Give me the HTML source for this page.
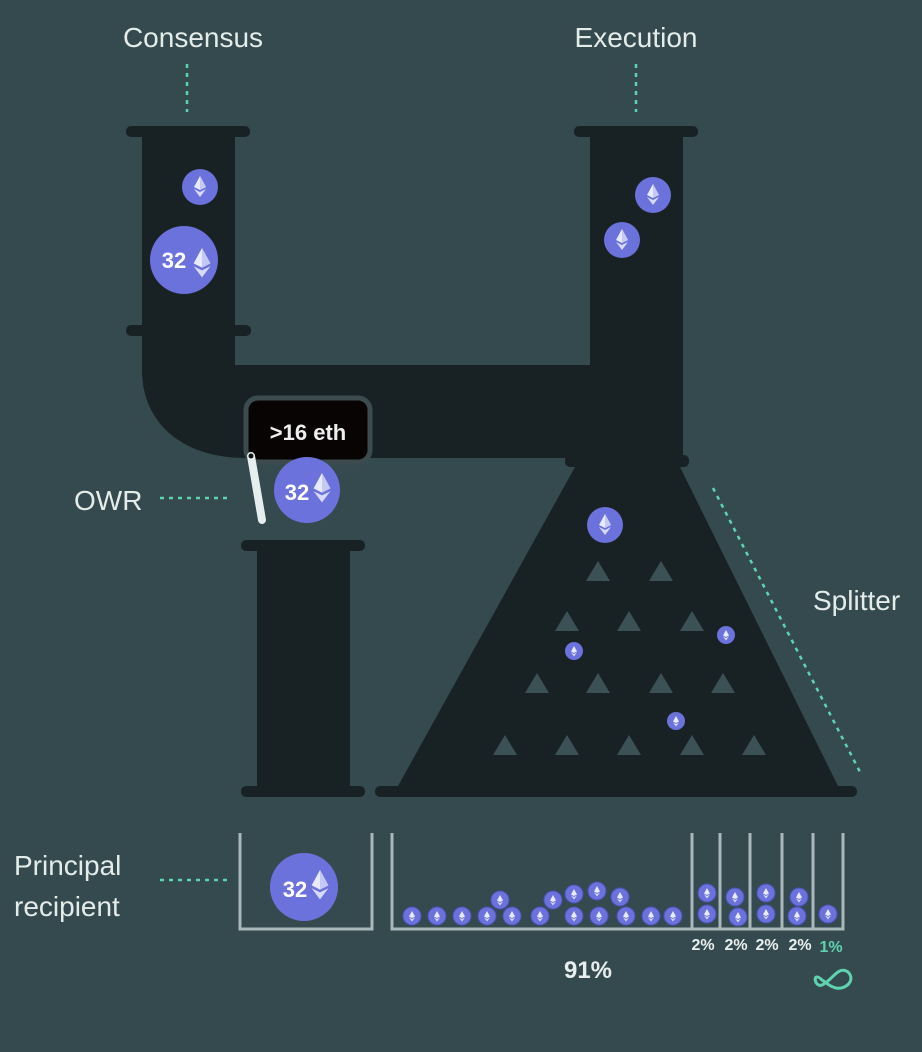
<!DOCTYPE html>
<html><head><meta charset="utf-8"><style>
html,body{margin:0;padding:0;background:#354a4f;}
svg{display:block}
text{font-family:"Liberation Sans",sans-serif}
</style></head><body>
<svg width="922" height="1052" viewBox="0 0 922 1052" xmlns="http://www.w3.org/2000/svg">
<defs>
<g id="eth"><path d="M0,-10 L6,1 L0,4 L-6,1Z" fill="#e8eaff"/><path d="M0,-10 L6,1 L0,4Z" fill="#c4c8f4"/><path d="M-6,3 L0,6 L6,3 L0,11Z" fill="#d7dbfb"/></g>
<g id="ethS"><path d="M0,-5 L3,0.5 L0,2 L-3,0.5Z" fill="#e8eaff"/><path d="M-3,1.5 L0,3 L3,1.5 L0,5.5Z" fill="#d7dbfb"/></g>
<polygon id="tri" points="0,-10 12,10 -12,10" fill="#3b5156"/>
</defs>
<rect width="922" height="1052" fill="#354a4f"/>
<g font-size="28" fill="#e4ece9" >
<text x="193" y="47" text-anchor="middle">Consensus</text>
<text x="636" y="47" text-anchor="middle">Execution</text>
<text x="74" y="510">OWR</text>
<text x="813" y="610">Splitter</text>
<text x="14" y="875">Principal</text>
<text x="14" y="916">recipient</text>
</g>
<g stroke="#5fd3b0" stroke-width="2.5" stroke-dasharray="4,5" fill="none">
<line x1="187" y1="64" x2="187" y2="112"/>
<line x1="636" y1="64" x2="636" y2="112"/>
<line x1="160" y1="498" x2="228" y2="498"/>
<line x1="160" y1="880" x2="228" y2="880"/>
<line x1="713" y1="488" x2="860" y2="772"/>
</g>
<g fill="#182224">
<rect x="126" y="126" width="124" height="11" rx="5"/>
<rect x="574" y="126" width="124" height="11" rx="5"/>
<rect x="142" y="136" width="93" height="190"/>
<rect x="126" y="325" width="125" height="11" rx="5"/>
<path d="M142,335 L235,335 L235,365 L590,365 L590,136 L683,136 L683,458 L245,458 C185,458 142,425 142,370Z"/>
<rect x="565" y="455" width="124" height="12" rx="5"/>
<polygon points="575,467 680,467 838,786 398,786"/>
<rect x="375" y="786" width="482" height="11" rx="5"/>
<rect x="241" y="540" width="124" height="11" rx="5"/>
<rect x="257" y="551" width="93" height="236"/>
<rect x="241" y="786" width="124" height="11" rx="5"/>
</g>
<g>
<use href="#tri" x="598" y="571"/><use href="#tri" x="661" y="571"/>
<use href="#tri" x="567" y="621"/><use href="#tri" x="629" y="621"/><use href="#tri" x="692" y="621"/>
<use href="#tri" x="537" y="683"/><use href="#tri" x="598" y="683"/><use href="#tri" x="661" y="683"/><use href="#tri" x="723" y="683"/>
<use href="#tri" x="505" y="745"/><use href="#tri" x="567" y="745"/><use href="#tri" x="629" y="745"/><use href="#tri" x="692" y="745"/><use href="#tri" x="754" y="745"/>
</g>
<rect x="246" y="398" width="124" height="64" rx="12" fill="#080404" stroke="#3c4b4e" stroke-width="5"/>
<text x="308" y="440" text-anchor="middle" font-size="22" font-weight="bold" fill="#eeeeee">&gt;16 eth</text>
<line x1="251" y1="456" x2="262" y2="520" stroke="#e6eef0" stroke-width="8" stroke-linecap="round"/>
<circle cx="251" cy="456" r="2.5" fill="#111"/>
<g fill="#6c72dc">
<circle cx="200" cy="187" r="18"/><circle cx="653" cy="195" r="18"/><circle cx="622" cy="240" r="18"/><circle cx="605" cy="525" r="18"/>
<circle cx="184" cy="260" r="34"/><circle cx="307" cy="490" r="33"/><circle cx="304" cy="887" r="34"/>
<circle cx="574" cy="651" r="9"/><circle cx="726" cy="635" r="9"/><circle cx="676" cy="721" r="9"/>
</g>
<g><use href="#eth" x="200" y="186"/><use href="#eth" x="653" y="194"/><use href="#eth" x="622" y="239"/><use href="#eth" x="605" y="524"/>
<use href="#eth" transform="translate(202,262) scale(1.4)"/><use href="#eth" transform="translate(322,487) scale(1.4)"/><use href="#eth" transform="translate(320,884) scale(1.4)"/>
<use href="#ethS" x="574" y="651"/><use href="#ethS" x="726" y="635"/><use href="#ethS" x="676" y="721"/></g>
<g font-size="22" font-weight="bold" fill="#fff">
<text x="174" y="268" text-anchor="middle">32</text>
<text x="297" y="500" text-anchor="middle">32</text>
<text x="295" y="897" text-anchor="middle">32</text>
</g>
<g stroke="#a9b8ba" stroke-width="3" fill="none">
<polyline points="240,833 240,929 372,929 372,833"/>
<polyline points="392,833 392,929 843,929 843,833"/>
<line x1="692" y1="833" x2="692" y2="929"/><line x1="720" y1="833" x2="720" y2="929"/><line x1="750" y1="833" x2="750" y2="929"/><line x1="782" y1="833" x2="782" y2="929"/><line x1="813" y1="833" x2="813" y2="929"/>
</g>
<g fill="#6c72dc" stroke="#4a53b8" stroke-width="1">
<circle cx="412" cy="916" r="9"/><circle cx="437" cy="916" r="9"/><circle cx="462" cy="916" r="9"/><circle cx="487" cy="916" r="9"/><circle cx="512" cy="916" r="9"/><circle cx="540" cy="916" r="9"/><circle cx="574" cy="916" r="9"/><circle cx="599" cy="916" r="9"/><circle cx="626" cy="916" r="9"/><circle cx="651" cy="916" r="9"/><circle cx="673" cy="916" r="9"/>
<circle cx="500" cy="900" r="9"/><circle cx="553" cy="900" r="9"/><circle cx="574" cy="894" r="9"/><circle cx="597" cy="891" r="9"/><circle cx="620" cy="897" r="9"/>
<circle cx="707" cy="893" r="9"/><circle cx="707" cy="914" r="9"/><circle cx="735" cy="897" r="9"/><circle cx="738" cy="917" r="9"/><circle cx="766" cy="893" r="9"/><circle cx="766" cy="914" r="9"/><circle cx="799" cy="897" r="9"/><circle cx="797" cy="916" r="9"/><circle cx="828" cy="914" r="9"/>
</g>
<g>
<use href="#ethS" x="412" y="916"/><use href="#ethS" x="437" y="916"/><use href="#ethS" x="462" y="916"/><use href="#ethS" x="487" y="916"/><use href="#ethS" x="512" y="916"/><use href="#ethS" x="540" y="916"/><use href="#ethS" x="574" y="916"/><use href="#ethS" x="599" y="916"/><use href="#ethS" x="626" y="916"/><use href="#ethS" x="651" y="916"/><use href="#ethS" x="673" y="916"/>
<use href="#ethS" x="500" y="900"/><use href="#ethS" x="553" y="900"/><use href="#ethS" x="574" y="894"/><use href="#ethS" x="597" y="891"/><use href="#ethS" x="620" y="897"/>
<use href="#ethS" x="707" y="893"/><use href="#ethS" x="707" y="914"/><use href="#ethS" x="735" y="897"/><use href="#ethS" x="738" y="917"/><use href="#ethS" x="766" y="893"/><use href="#ethS" x="766" y="914"/><use href="#ethS" x="799" y="897"/><use href="#ethS" x="797" y="916"/><use href="#ethS" x="828" y="914"/>
</g>
<g font-size="16" font-weight="bold" fill="#e8eeee">
<text x="703" y="950" text-anchor="middle">2%</text><text x="736" y="950" text-anchor="middle">2%</text><text x="767" y="950" text-anchor="middle">2%</text><text x="800" y="950" text-anchor="middle">2%</text>
<text x="831" y="952" text-anchor="middle" fill="#5fd3b0">1%</text>
<text x="588" y="978" text-anchor="middle" font-size="24">91%</text>
</g>
<path d="M822,980 C812,970 814,988 822,985 C832,981 838,965 848,972 C856,980 846,990 836,988 C828,986 826,982 822,980Z" fill="none" stroke="#5fd3b0" stroke-width="3"/>
</svg>
</body></html>
